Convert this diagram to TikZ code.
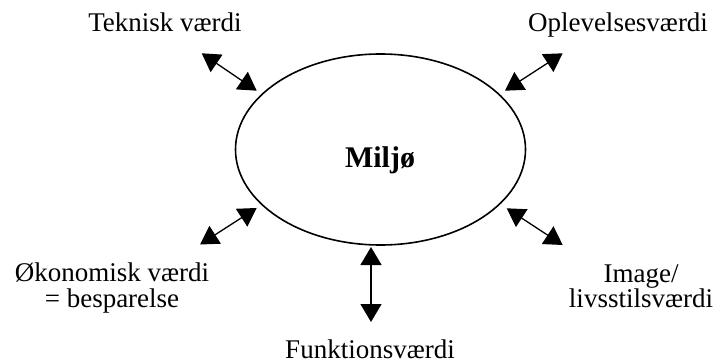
\documentclass[tikz,border=0pt]{standalone}
\usepackage{fontspec}
\setmainfont{Liberation Serif}
\usetikzlibrary{shapes.geometric,arrows.meta}
\tikzset{
  lbl/.style={font=\fontsize{27}{25.5}\selectfont, inner sep=0pt, align=center},
  env/.style={draw, ellipse, line width=1.6pt, minimum width=290pt, minimum height=191pt, inner sep=0pt},
  link/.style={line width=1.3pt, {Triangle[length=18pt,width=21pt]}-{Triangle[length=18pt,width=21pt]}}
}
\begin{document}
\begin{tikzpicture}[x=1pt,y=-1pt]
\useasboundingbox (0,0) rectangle (714,363);
% central ellipse
\node[env] (miljo) at (380.5,149.5) {};
\node[font=\fontsize{30}{30}\selectfont\bfseries, inner sep=0pt, anchor=base] (miljotxt) at (380,168) {Miljø};
% surrounding labels (two-line labels are anchored at their last baseline)
\node[lbl, anchor=base] (tek) at (165,32) {Teknisk værdi};
\node[lbl, anchor=base] (opl) at (618,32) {Oplevelsesværdi};
\node[lbl, anchor=base] (oko) at (112,307) {Økonomisk værdi\\= besparelse};
\node[lbl, anchor=base] (img) at (641,307.5) {Image/\\livsstilsværdi};
\node[lbl, anchor=base] (fun) at (370,358) {Funktionsværdi};
% arrow end points
\coordinate (t1) at (201.7,53.3);  \coordinate (t2) at (256.7,90.7);
\coordinate (o1) at (562.7,53.3);  \coordinate (o2) at (505,90.7);
\coordinate (k1) at (200,244.5);   \coordinate (k2) at (256.7,208);
\coordinate (i1) at (562.7,245);   \coordinate (i2) at (506.7,208.3);
\coordinate (f1) at (371,322);     \coordinate (f2) at (371,247);
% double-headed arrows
\draw[link] (t1) -- (t2);
\draw[link] (o1) -- (o2);
\draw[link] (k1) -- (k2);
\draw[link] (i1) -- (i2);
\draw[link] (f1) -- (f2);
\end{tikzpicture}
\end{document}
